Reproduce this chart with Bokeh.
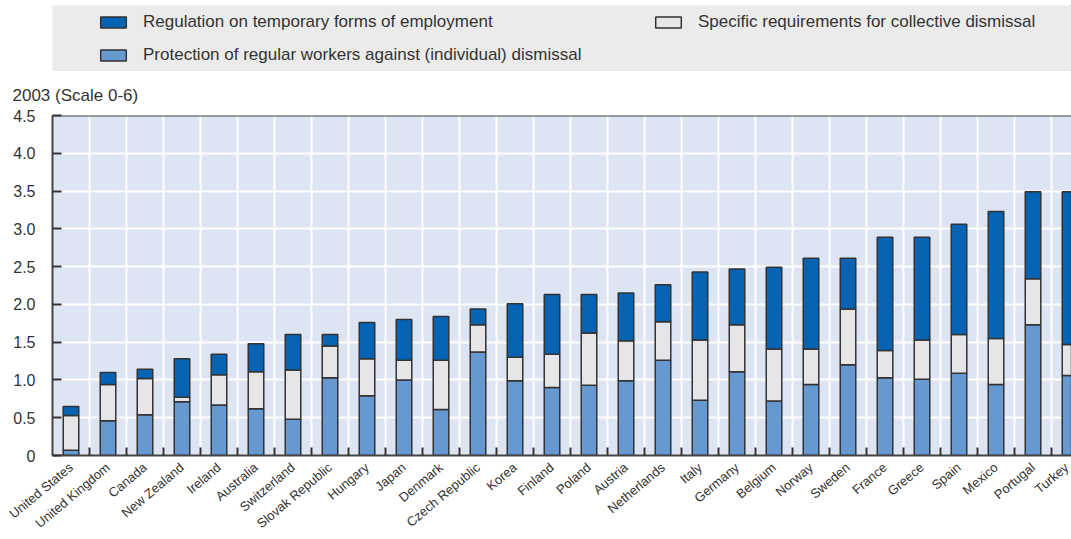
from bokeh.plotting import figure
from bokeh.models import (Range1d, FixedTicker, CustomJSTickFormatter, Span,
                          Legend, LegendItem, ColumnDataSource, Spacer)
from bokeh.layouts import column, row
from bokeh.embed import file_html
from bokeh.resources import INLINE
import math

countries = ["United States", "United Kingdom", "Canada", "New Zealand", "Ireland",
             "Australia", "Switzerland", "Slovak Republic", "Hungary", "Japan",
             "Denmark", "Czech Republic", "Korea", "Finland", "Poland", "Austria",
             "Netherlands", "Italy", "Germany", "Belgium", "Norway", "Sweden",
             "France", "Greece", "Spain", "Mexico", "Portugal", "Turkey"]
# contributions to overall EPL indicator (stacked segments)
regular = [0.07, 0.46, 0.54, 0.71, 0.67, 0.62, 0.48, 1.03, 0.79, 1.00,
           0.61, 1.37, 0.99, 0.90, 0.93, 0.99, 1.26, 0.73, 1.11, 0.72,
           0.94, 1.20, 1.03, 1.01, 1.09, 0.94, 1.73, 1.06]
collective = [0.46, 0.48, 0.48, 0.06, 0.40, 0.49, 0.65, 0.42, 0.49, 0.26,
              0.65, 0.36, 0.31, 0.44, 0.69, 0.53, 0.51, 0.80, 0.62, 0.69,
              0.47, 0.74, 0.36, 0.52, 0.51, 0.61, 0.61, 0.41]
temporary = [0.12, 0.16, 0.12, 0.51, 0.27, 0.37, 0.47, 0.15, 0.48, 0.54,
             0.58, 0.21, 0.71, 0.79, 0.51, 0.63, 0.49, 0.90, 0.74, 1.08,
             1.20, 0.67, 1.50, 1.36, 1.46, 1.68, 1.15, 2.02]
y_ticks = [0, 0.5, 1.0, 1.5, 2.0, 2.5, 3.0, 3.5, 4.0, 4.5]

labels = {
    "temporary": "Regulation on temporary forms of employment",
    "regular": "Protection of regular workers against (individual) dismissal",
    "collective": "Specific requirements for collective dismissal",
}
colors = {"regular": "#6699D1", "collective": "#E6E6E8", "temporary": "#0563B3"}
OUTLINE = "#333333"
TEXT = "#333333"
FONT = "Liberation Sans"

xs = [i + 0.5 for i in range(len(countries))]
source = ColumnDataSource(dict(x=xs, regular=regular, collective=collective,
                               temporary=temporary))

# ---------------- legend figure (grey band) ----------------
lf = figure(width=1019, height=66, x_range=Range1d(0, 1), y_range=Range1d(0, 1),
            x_axis_type=None, y_axis_type=None, title=None,
            toolbar_location=None, output_backend="svg",
            background_fill_color="#EBEBEB", border_fill_color="#EBEBEB",
            outline_line_color=None, min_border=0)
lf.grid.visible = False
dummy = {}
for k in ["temporary", "regular", "collective"]:
    # placed outside the visible range: only used for the legend swatches
    dummy[k] = lf.vbar(x=[5], top=[5], bottom=[4], width=0.1, fill_color=colors[k],
                       line_color=OUTLINE, line_width=1.5)
leg = Legend(items=[LegendItem(label=labels["temporary"], renderers=[dummy["temporary"]]),
                    LegendItem(label=labels["regular"], renderers=[dummy["regular"]]),
                    LegendItem(label=labels["collective"], renderers=[dummy["collective"]])],
             nrows=2, orientation="vertical", location=(45, 6),
             padding=3, margin=0, spacing=13,
             glyph_width=32, glyph_height=14, label_height=20, label_width=496,
             label_standoff=14, label_text_font=FONT, label_text_font_size="17px",
             label_text_color=TEXT, border_line_color=None,
             background_fill_alpha=0)
lf.add_layout(leg)

# ---------------- main figure ----------------
p = figure(width=1071, height=468, x_range=Range1d(0, 27.54), y_range=Range1d(0, 4.5),
           toolbar_location=None, output_backend="svg",
           background_fill_color="#DEE5F2", border_fill_color="white",
           outline_line_color=None, min_border_left=52, min_border_right=0,
           min_border_top=44, min_border_bottom=80, title="2003 (Scale 0-6)")
p.title.text_font = FONT
p.title.text_font_size = "17px"
p.title.text_font_style = "normal"
p.title.text_color = TEXT
p.title.align = "left"
p.title.offset = -40
p.title.standoff = 21

p.vbar_stack(["regular", "collective", "temporary"], x="x", width=0.42,
             source=source,
             fill_color=[colors["regular"], colors["collective"], colors["temporary"]],
             line_color=OUTLINE, line_width=1.5)

# axes
xa = p.xaxis[0]
xa.ticker = FixedTicker(ticks=xs, minor_ticks=list(range(1, len(countries))))
xa.formatter = CustomJSTickFormatter(args=dict(names=countries),
                                     code="return names[Math.round(tick - 0.5)] || '';")
xa.major_tick_line_color = None
xa.minor_tick_in = 8
xa.minor_tick_out = 0
xa.minor_tick_line_color = OUTLINE
xa.minor_tick_line_width = 2
xa.axis_line_color = "#444444"
xa.axis_line_width = 2
xa.major_label_orientation = math.radians(40)
xa.major_label_text_font = FONT
xa.major_label_text_font_size = "13px"
xa.major_label_text_color = TEXT
xa.major_label_standoff = 4

ya = p.yaxis[0]
ya.ticker = FixedTicker(ticks=y_ticks)
ya.formatter = CustomJSTickFormatter(code="return tick == 0 ? '0' : tick.toFixed(1);")
ya.major_tick_in = 9
ya.major_tick_out = 0
ya.major_tick_line_color = OUTLINE
ya.major_tick_line_width = 2
ya.minor_tick_line_color = None
ya.axis_line_color = "#444444"
ya.axis_line_width = 2
ya.major_label_text_font = FONT
ya.major_label_text_font_size = "16px"
ya.major_label_text_color = TEXT
ya.major_label_standoff = 17

p.xgrid.ticker = FixedTicker(ticks=list(range(1, len(countries))))
p.ygrid.ticker = FixedTicker(ticks=y_ticks[1:-1])
p.grid.grid_line_color = "white"
p.grid.grid_line_width = 2

p.add_layout(Span(location=4.5, dimension="width", line_color="#444444", line_width=2))

layout = column(Spacer(width=10, height=5),
                row(Spacer(width=52, height=66), lf, spacing=0),
                p, spacing=0)
open("out.html", "w").write(file_html(layout, INLINE))
